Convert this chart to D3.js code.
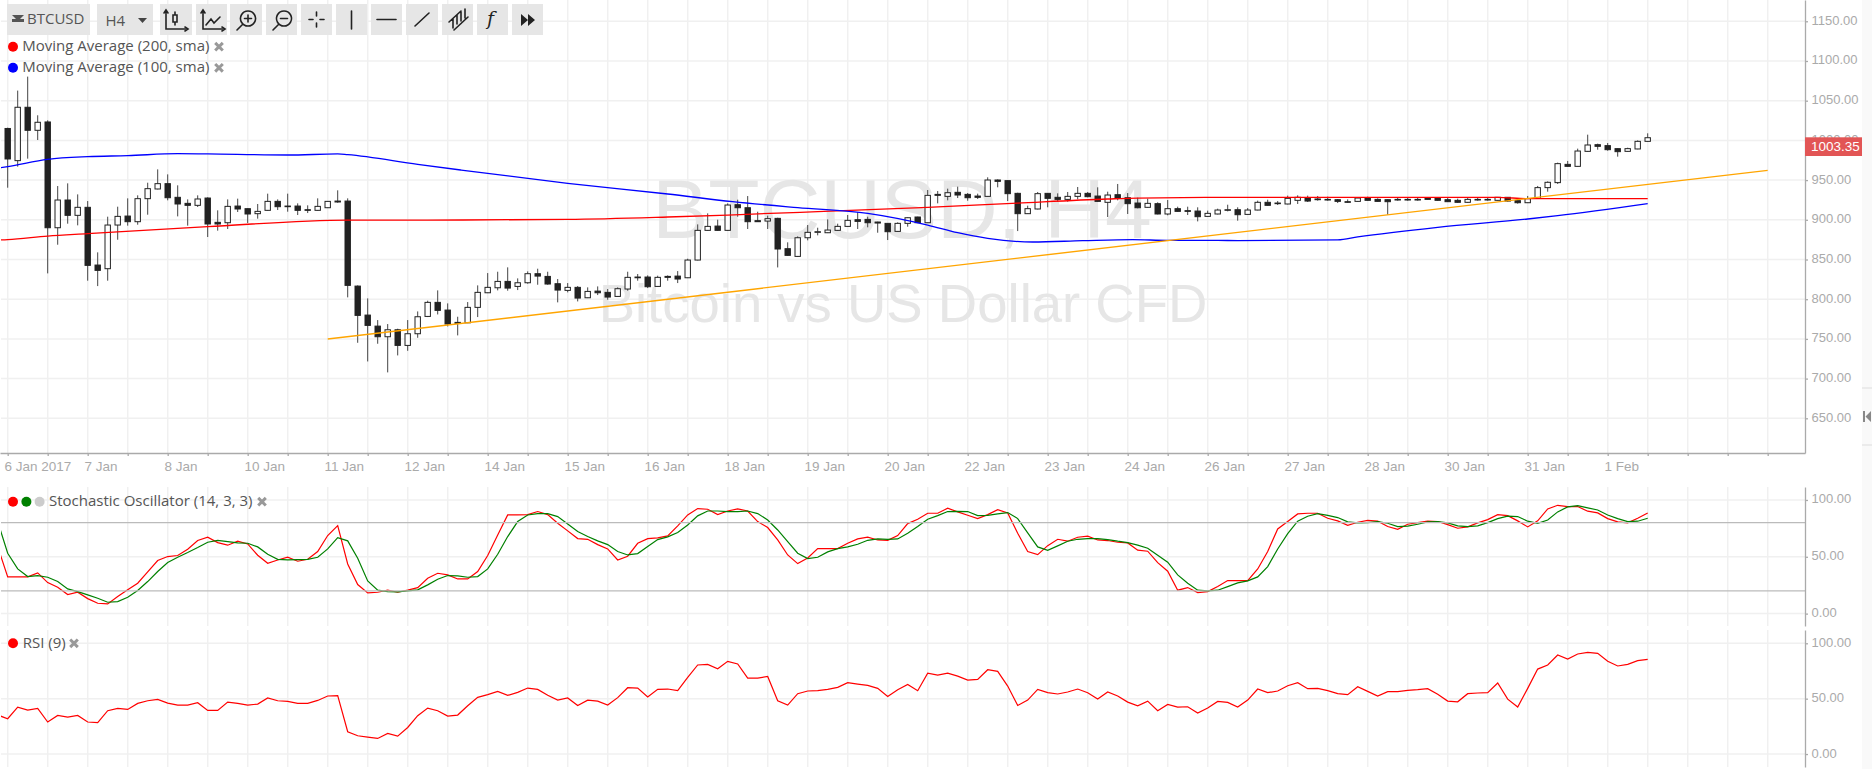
<!DOCTYPE html>
<html lang="en">
<head>
<meta charset="UTF-8">
<title>BTCUSD, H4</title>
<style>
  html, body { margin: 0; padding: 0; background: #fff; overflow: hidden; }
  svg { display: block; }
  text { font-family: "Liberation Sans", Arial, sans-serif; }
  .legend text, .bar text { font-family: "Open Sans", sans-serif; font-size: 15px; fill: #555; }
  .axis text { fill: #aaa; stroke: none; }
  .axis path, .axis line { stroke: #aaa; stroke-width: 1.3; fill: none; }
  .grid line { stroke: #f0f0f0; stroke-width: 1.5; }
  .wm { fill: #e6e6e6; text-anchor: middle; }
  .btn { fill: #e6e6e6; }
  .ico { fill: none; stroke: #222; stroke-width: 1.6; stroke-linecap: round; }
</style>
</head>
<body>
<script src="https://cdn.jsdelivr.net/npm/d3@7/dist/d3.min.js"></script>
<script>
// candles, one every 4 hours, from 6 Jan 2017
var opens = [1015,974.5,1041.7,1012.7,1023.2,890,924.9,905.6,915.7,843,838.4,893.4,904.7,897.6,926.6,938.8,945.5,928.3,920.7,918.2,
  927.4,896.8,896.3,917.3,914,907.7,911.9,923.2,917.3,917.3,912.7,911.9,915.2,923.6,923.6,816.5,780,766.1,752.7,761.5,
  741.8,756.5,778.3,796,786.3,770.8,770.3,789.7,808.1,814.4,822.4,816.1,820.7,832.1,828.7,819.5,811.1,814.9,801.8,810.2,
  808.6,803.5,812.8,827,827.9,816.1,828.7,829.1,827,849.3,886.7,892.1,886.7,919,915.2,898.9,898.4,901.8,863.6,853.9,
  877.4,884.2,883.7,886.7,891.7,900.1,900.5,897.2,895.5,885.4,895.5,903.5,896.3,932,929.5,934.6,932,929.9,929.5,950.1,
  949.3,933.3,907.7,913.6,933.3,928.3,925.7,929.5,933.3,929.9,922,931.6,927.8,921.1,915.7,920.3,907.3,914,911.5,911,
  904.3,907.3,911.9,912.7,906.8,912.3,922,921.1,919.9,924.5,927.8,926.2,925.7,925.3,922.8,923.2,927.8,925.7,925.3,925.7,
  925.7,925.7,927.8,927.4,925.3,924.5,922,925.7,925.7,924.5,928.3,924.1,921.5,927,940.5,946.8,969.8,967.3,986.2,994.6,
  993.4,989.6,986.2,989.2,998.8];
var highs = [1016,1062.7,1080.3,1031.6,1025.3,942.5,945.9,932,923.6,859,903.9,916.5,927,930.8,946.7,963.5,957.2,943.4,925.7,930.8,
  928.3,911.9,925.7,926.6,914.4,919.9,932.9,925.7,932.9,920.7,918.2,927,923.6,937.1,927,817.4,801,773.7,768.7,762.8,
  773.7,784.6,798.1,811.1,794.7,777.9,796.4,817.4,832.9,834.6,840.1,826.2,835,838.4,834.6,825.4,820.3,816.5,814.9,816.1,
  812.8,814.9,834.6,831.7,830,829.6,830,835.4,851,894.2,908.1,900.1,920.7,925.3,929.9,910.2,905.2,902.6,871.6,879.1,
  893.4,890,900.5,895.1,906,909.8,903.9,897.6,895.5,896.8,903.1,903.9,937.5,936.2,939.2,941.7,933.7,932.9,953.5,950.9,
  949.7,934.1,917.8,935,933.7,933.3,935,941.3,935,940.9,935.4,945.1,933.7,927.8,926.6,922,924.9,916.5,916.5,915.7,
  911.5,914,919,915.7,914.8,924.1,925.3,923.6,930.4,930.8,930.4,930,929.1,926.2,925.7,928.3,929.1,927,925.7,928.3,
  928.3,928.3,928.7,928.3,927.4,926.6,927.4,928.3,928.3,928.7,928.7,924.9,930,942.6,948.4,972,974.1,989.6,1007.2,995.9,
  996.7,990,990.8,1000,1008.9];
var lows = [940.4,966.9,977,1000.5,832.5,868.6,895.1,893,823.3,816.5,823.3,874.9,892.6,893.8,906.4,938.3,924.5,904.3,892.6,916.1,
  878.3,886.3,888.4,909.8,896,901.4,911.5,912.3,910.2,906,908.5,911.5,914.8,921.5,802.3,745.1,721.6,743.9,707.8,729.2,
  735,751.4,777.5,780.8,765.7,754.4,769.9,777.5,807.7,811.1,810.7,811.5,819.5,818.2,818.2,796,808.6,797.2,801.4,805.2,
  799.3,803.1,810.7,823.3,814,815.7,823.3,820.3,826.6,848.9,886.3,886.3,886.3,903.9,888.4,897.6,888.4,840,854.8,853.1,
  874.1,880.4,883.3,886.3,891.3,888.4,890.5,883.7,874.5,885,891.3,895.9,895.9,920.7,924.5,927.4,924,926.2,929.1,940.9,
  923.6,885.8,907.3,913.1,915.7,922.8,922.8,925.7,928.3,922.8,903.5,924.5,907.3,914.4,915.2,906.8,905.6,910.2,906,898,
  903.9,906.8,910.6,898.9,906.4,911.9,917.8,918.6,919.4,919.9,922.4,924.1,924.1,921.1,921.5,922.8,924.1,922.8,906.4,924.1,
  924.1,924.1,925.3,924.1,922.4,921.5,921.5,924.1,924.1,924.1,922.8,920.3,921.1,926.6,935.4,945.1,966.9,966.9,985.8,988.3,
  987,979.5,985.8,988.8,998.4];
var closes = [976.6,1041.7,1012.7,1022.8,890,924.9,905.6,915.7,842.6,836.3,893.4,904.3,897.6,926.6,939.2,945.5,927.8,919.9,918.2,926.2,
  894.7,894.7,916.9,913.6,907.3,910.6,923.2,916.5,916.5,911.9,911.9,916.9,923.2,922.4,817.4,779.6,767,752.7,761.5,741.8,
  756.5,777.9,796,785.9,768.7,769.5,789.7,808.6,814.9,822.4,814,820.7,832.1,829.1,819.1,811.5,814.9,801.4,809.8,808.1,
  802.7,813.2,827.5,827.9,815.7,827.5,827.5,825.4,849.3,886.7,891.7,886.7,918.6,915.2,897.6,897.6,901.4,863.2,855.2,877.4,
  884.2,885,887.1,891.7,899.3,898,896.3,895.9,885,895.5,902.6,896.3,930.8,930.8,934.1,931.2,927.8,928.3,950.1,948.4,
  932.9,907.7,914,932.9,927,925.7,929.5,933.3,929.1,923.2,931.2,927,920.3,915.2,920.7,907.3,914,910.6,910.6,903.9,
  908.1,912.3,912.7,906.4,912.3,922,918.2,920.3,927,928.3,923.6,925.3,924.9,923.2,922,927.4,924.5,923.2,922.8,924.9,
  924.9,924.9,925.7,924.5,922.8,922,925.7,924.9,924.9,928.3,923.6,921.5,926.6,940.5,947.2,970.7,967.3,986.6,994.2,992.5,
  988.3,985.8,989.6,998.8,1003.35];

// moving averages and the hand drawn trend line: candle index and price
var ma200Index = [-1,0,4,8,20,34,42,56,66,72,77,81,92,101,110,113,121,149,152,164];
var ma200Price = [874.5,875,879.5,882.5,891.3,899.7,899.7,900.5,903.5,906,908.5,910.2,915.7,921.1,926.2,927.4,928.3,928.3,926.6,926.6];
var ma100Index = [-1,0,4,8,12,17,20,28,33,34,41,45.3,56,66,72.5,79,86,92,95,98,102.5,107.5,112.5,116,121,123,133,135,143,152,155,164];
var ma100Price = [965,966.9,976.1,979.5,980.8,983.3,982.9,981.6,982.9,982,969.8,962.7,945.9,932.5,922.8,915.3,908.1,893.4,883.7,876.6,872,873.7,875,874.1,874.1,873.7,874.6,878.4,890.5,901,905.2,920.3];
var trendIndex = [32,176];
var trendPrice = [749.8,962.3];

// stochastic %K, %D and RSI, first value is the candle before the window
var stochK = [59,32.3,32.3,32.3,35.8,27.3,23.2,16.8,18.8,13.2,9.1,8.5,15,20.9,26.7,36.7,46.7,50.2,51.1,56.6,64.3,
  67.2,62.5,60.2,63.7,61.3,51.4,44.3,47.2,49.6,46.1,47.8,54.6,68.7,77.4,43.7,25.6,18.2,18.8,20.6,18.8,
  20.6,22.9,31.1,35.5,34.1,30.5,30.5,37,51.1,69.2,86.8,86.8,87.1,89.8,87.1,79.5,72.8,66,65.4,60.7,
  56.9,47.2,50.5,61.9,66,66.6,68.4,77.2,86.8,92.4,91.8,87.1,90.3,92.1,90.3,81,75.7,64.8,51.6,44,
  49,57.2,57.2,57.2,61.9,65.7,67.2,64.8,64.5,68.7,79.2,83,88.3,88.3,
  92.7,89.5,86.5,83.6,87.1,91.5,88.6,70.7,54.6,51.9,59.8,65.4,63.7,67.2,68.1,64.8,64.3,62.8,62.2,55.8,
  54.9,44.9,37.3,20.6,22.9,18.5,19.4,23.8,29.1,29.1,29.1,39.3,54.6,74.5,81,87.7,88.3,88.3,83.9,81.6,
  77.7,80.4,82.1,81.3,76.6,74.2,78.6,80.1,81.3,81,78.3,75.1,76.3,79.8,82.7,87.1,86.2,81.6,76.3,81.6,
  92.1,95.3,94.2,94.2,90.1,88.6,83.6,80.7,79.8,83.9,88.6];
var stochD = [81,53.1,39.3,32.6,33.5,32,28.2,21.7,19.4,16.5,13.5,10,10.6,14.4,20.3,28.2,37,44.9,49.6,53.7,58.1,
  62.8,64.5,63.4,62.2,61.9,58.7,52.2,47.8,47.2,47.5,47.8,49.6,56.9,66.9,64,48.7,28.8,20.6,19.4,19.1,
  20,20.9,25.3,30.2,33.5,33.2,32,32.6,39.3,52.2,67.8,81,86.8,88,88,85.4,78.9,72.2,67.8,64,
  60.7,54.6,51.6,52.8,59,65.1,67.5,71.3,78,86,90.3,90.3,89.8,89.8,90.3,88,82.4,73.6,63.4,53.1,
  48.4,49.6,54.3,57.2,58.7,61,64.5,65.7,65.4,65.7,70.7,76.6,83,86.2,
  89.8,90,89.8,86.2,86.5,87.7,88.9,83.6,71,58.7,55.7,59.6,63.7,65.4,66,66,65.1,63.7,62.5,60.2,
  57.5,51.4,45.2,34.1,26.7,20.6,20,20.6,23.8,27,28.8,32.3,41.4,56.9,70.4,81.3,85.7,88,86.5,84.5,
  80.7,79.8,80.1,81,79.5,76.6,76.9,78.6,80.7,81,79.8,77.2,76.6,77.2,80.1,83.6,85.7,85.4,81.3,79.5,
  82.4,89.5,93.9,95,93,91.2,86.8,83.6,81,81.3,83.9];
var rsi = [35.2,31.9,42.4,39.7,41.2,28.9,34.9,33.4,34.9,28.9,28.3,39.1,41.2,40.3,45.7,48.1,49.3,46,44.2,44.2,46.3,
  39.4,39.4,46.9,45.7,44.2,45.1,50.6,48.1,47.5,45.7,45.7,48.4,52.4,52.7,20.1,16.5,15.3,14.1,18.6,16.2,
  24,34.6,41.5,39.1,34.3,35.2,43.6,51.2,53.6,56.6,53,55.7,59.6,58.4,53,48.7,50.6,43.9,48.7,47.8,
  44.2,50.9,59.9,59.6,51.5,58.4,58.7,57.2,69.2,80.4,81,77,83.7,81.3,68.6,68.6,70.1,48.1,44.2,54.5,
  56.9,57.2,58.4,60.2,64.4,63.2,62,59.3,52,58.1,62.9,57.2,73.1,71.3,
  73.1,70.4,66.8,67.4,76.1,74.6,61.4,43.9,48.7,58.4,55.4,54.2,56,58.7,55.4,49.6,56,52.4,46.9,43.6,
  47.8,39.1,44.8,42.4,42.7,37,41.5,47.5,46.6,42.4,48.7,58.7,55.4,56.9,61.7,64.4,59,59.3,57.2,54.5,
  53.6,60.8,56.6,52.4,56.3,56.3,57.5,58.1,59,53.9,47.8,47.2,54.5,55.1,55.4,64.1,49.6,42.4,59.3,76.7,
  80.4,89.4,85.8,90.3,91.8,90.9,83.7,79.5,81,84.3,85.5];

// axis labels
var priceTicks = [1150,1100,1050,1000,950,900,850,800,750,700,650];
var oscTicks = [100,50,0];
var stochBands = [80,20];
var dateLabels = ["6 Jan 2017","7 Jan","8 Jan","10 Jan","11 Jan","12 Jan","14 Jan","15 Jan","16 Jan","18 Jan","19 Jan","20 Jan",
  "22 Jan","23 Jan","24 Jan","26 Jan","27 Jan","28 Jan","30 Jan","31 Jan","1 Feb"];
var lastPrice = 1003.35;

var width = 1872, height = 769, right = 1805;
var svg = d3.select("body").append("svg").attr("width", width).attr("height", height);

svg.append("defs").append("clipPath").attr("id", "plot")
  .append("rect").attr("x", 1).attr("y", 0).attr("width", right - 1).attr("height", height);

// one candle is 10px wide, grid every 4 candles
var x = d3.scaleLinear().domain([-0.77, 179.73]).range([0, right]);
var yPrice = d3.scaleLinear().domain([1176.8, 606.3]).range([0, 453]);
var yStoch = d3.scaleLinear().domain([111.4, -10.9]).range([487, 626]);
var yRsi = d3.scaleLinear().domain([112, -11.7]).range([630, 767]);

var gridIndex = d3.range(0, 177, 4);

// side strip on the right
svg.append("rect").attr("x", 1862).attr("y", 0).attr("width", 10).attr("height", height).attr("fill", "#f9f9f9");
svg.selectAll(".strip").data([388, 445]).enter().append("line").attr("class", "strip")
  .attr("x1", 1862).attr("x2", 1872).attr("y1", function(d) { return d; }).attr("y2", function(d) { return d; })
  .attr("stroke", "#ddd");
svg.append("path").attr("d", "M1863 411h2v11h-2zM1871 411v11l-5.5-5.5z").attr("fill", "#888");

function drawGrid(yScale, ticks) {
  var r = yScale.range();
  var g = svg.append("g").attr("class", "grid");
  g.selectAll(".v").data(gridIndex).enter().append("line").attr("class", "v")
    .attr("x1", x).attr("x2", x).attr("y1", r[0]).attr("y2", r[1]);
  g.selectAll(".h").data(ticks).enter().append("line").attr("class", "h")
    .attr("x1", 1).attr("x2", right).attr("y1", yScale).attr("y2", yScale);
}
drawGrid(yPrice, priceTicks);
drawGrid(yStoch, oscTicks);
drawGrid(yRsi, oscTicks);

// watermark
svg.append("text").attr("class", "wm").attr("x", 902).attr("y", 238).style("font-size", "84px").text("BTCUSD, H4");
svg.append("text").attr("class", "wm").attr("x", 903).attr("y", 321.5).style("font-size", "54.5px").text("Bitcoin vs US Dollar CFD");

// candles
var plot = svg.append("g").attr("clip-path", "url(#plot)");
var candles = plot.selectAll(".candle").data(opens).enter().append("g").attr("class", "candle");
candles.append("line")
  .attr("x1", function(d, i) { return x(i); }).attr("x2", function(d, i) { return x(i); })
  .attr("y1", function(d, i) { return yPrice(highs[i]); }).attr("y2", function(d, i) { return yPrice(lows[i]); })
  .attr("stroke", "#444").attr("stroke-width", 1);
candles.append("rect")
  .attr("x", function(d, i) { return x(i) - 2.7; }).attr("width", 5.4)
  .attr("y", function(d, i) { return yPrice(Math.max(opens[i], closes[i])); })
  .attr("height", function(d, i) { return Math.max(0.4, Math.abs(yPrice(opens[i]) - yPrice(closes[i]))); })
  .attr("fill", function(d, i) { return closes[i] >= opens[i] ? "#fff" : "#222"; })
  .attr("stroke", "#222").attr("stroke-width", 1);

function indexLine(yScale, xs, ys, color, w, curve) {
  plot.append("path").datum(ys)
    .attr("d", d3.line().x(function(d, i) { return x(xs[i]); }).y(function(d) { return yScale(d); }).curve(curve))
    .attr("fill", "none").attr("stroke", color).attr("stroke-width", w);
}
indexLine(yPrice, ma200Index, ma200Price, "#ff0000", 1.3, d3.curveMonotoneX);
indexLine(yPrice, ma100Index, ma100Price, "#0000ff", 1.3, d3.curveMonotoneX);
indexLine(yPrice, trendIndex, trendPrice, "#ffa500", 1.4, d3.curveLinear);

// oscillators
svg.selectAll(".band").data(stochBands).enter().append("line").attr("class", "band")
  .attr("x1", 1).attr("x2", right).attr("y1", yStoch).attr("y2", yStoch)
  .attr("stroke", "#bbb").attr("stroke-width", 1.3);
function oscLine(yScale, values, color) {
  plot.append("path").datum(values)
    .attr("d", d3.line().x(function(d, i) { return x(i - 1); }).y(function(d) { return yScale(d); }))
    .attr("fill", "none").attr("stroke", color).attr("stroke-width", 1.2);
}
oscLine(yStoch, stochK, "#ff0000");
oscLine(yStoch, stochD, "#008000");
oscLine(yRsi, rsi, "#ff0000");

// axes
var xAxis = d3.axisBottom(x).tickValues(gridIndex).tickSizeOuter(0).tickSizeInner(3)
  .tickFormat(function(d) { return d % 8 === 0 ? dateLabels[d / 8] : ""; });
var gx = svg.append("g").attr("class", "axis").attr("transform", "translate(0,453)").call(xAxis);
gx.selectAll("text").attr("text-anchor", "start").attr("x", -3.7).attr("y", 13.7).attr("dy", "0.35em").style("font-size", "13.5px");

function yAxis(scale, ticks) {
  var g = svg.append("g").attr("class", "axis").attr("transform", "translate(" + right + ",0)")
    .call(d3.axisRight(scale).tickValues(ticks).tickSizeOuter(0).tickSizeInner(3).tickFormat(d3.format(".2f")));
  g.selectAll("text").attr("x", 6.5).attr("y", -1.2).style("font-size", "13px");
}
yAxis(yPrice, priceTicks);
yAxis(yStoch, oscTicks);
yAxis(yRsi, oscTicks);

// last price tag
svg.append("rect").attr("x", right).attr("y", 137.3).attr("width", 57).attr("height", 18.7).attr("fill", "#e25555");
svg.append("text").attr("x", right + 6).attr("y", 151.3).attr("fill", "#fff").style("font-size", "13.5px").text(lastPrice.toFixed(2));

// legends
var legend = svg.append("g").attr("class", "legend");
function dot(cx, cy, color) {
  legend.append("circle").attr("cx", cx).attr("cy", cy).attr("r", 5).attr("fill", color);
}
function cross(cx, cy) {
  legend.append("path").attr("d", "M" + (cx - 3.8) + " " + (cy - 3.8) + "l7.6 7.6m0 -7.6l-7.6 7.6")
    .attr("stroke", "#999").attr("stroke-width", 3).attr("fill", "none");
}
function label(tx, cy, s) {
  legend.append("text").attr("x", tx).attr("y", cy).attr("dy", "0.35em").text(s);
}
dot(13, 46.7, "#ff0000"); label(22.3, 46, "Moving Average (200, sma)"); cross(219, 46.7);
dot(13, 67.8, "#0000ff"); label(22.3, 67, "Moving Average (100, sma)"); cross(219, 67.8);
dot(13, 501.7, "#ff0000"); dot(26.4, 501.7, "#008000"); dot(39.6, 501.7, "#cccccc");
label(49, 501, "Stochastic Oscillator (14, 3, 3)"); cross(262, 501.7);
dot(13, 643.3, "#ff0000"); label(22.8, 643, "RSI (9)"); cross(74, 643.3);

// toolbar
var bar = svg.append("g").attr("class", "bar");
var buttons = [[7,83],[97,56],[160,32],[196,31],[230,32],[266,31],[301,31],[336,31],[371,31],[406,32],[442,31],[477,31],[512,31]];
bar.selectAll("rect").data(buttons).enter().append("rect").attr("class", "btn")
  .attr("x", function(d) { return d[0]; }).attr("y", 4).attr("width", function(d) { return d[1]; }).attr("height", 31);
bar.append("path").attr("d", "M12 15h12l-4 4h4v3H12v-3h4z").attr("fill", "#555");
bar.append("text").attr("x", 27).attr("y", 23.5).text("BTCUSD");
bar.append("text").attr("x", 105.5).attr("y", 26).text("H4");
bar.append("path").attr("d", "M138 18h9l-4.5 5z").attr("fill", "#444");

var icons = [
  "M166 11v18h19M175 12v3m0 7v3M173 15h4v7h-4zM185 27l3 2-3 2M164 13l2-3 2 3",
  "M203 11v18h19M206 25l5-6 3 4 6-6M222 27l3 2-3 2M201 13l2-3 2 3",
  "M248 11a7.5 7.5 0 1 0 .01 0zM248 15v7M244.500 18.500h7M243 24l-6 6",
  "M284 11a7.500 7.500 0 1 0 .01 0zM280.500 18.500h7M279 24l-6 6",
  "M309 19.500h4M320 19.500h4M316.500 12v4M316.500 23v4",
  "M351.500 11v18",
  "M377 19.500h19",
  "M415 26l14 -13",
  "M449 22l12 -11M454 30l14 -13M453 19v9M457 15v9M461 12v9M465 9v9"
];
bar.selectAll(".ico").data(icons).enter().append("path").attr("class", "ico").attr("d", function(d) { return d; });
bar.append("text").attr("x", 487).attr("y", 25).style("font-size", "19px").style("font-style", "italic")
  .style("font-family", "'DejaVu Serif', serif").style("fill", "#222").text("f");
bar.append("path").attr("d", "M521 14l7 6-7 6zM528 14l7 6-7 6z").attr("fill", "#222");
</script>
</body>
</html>
